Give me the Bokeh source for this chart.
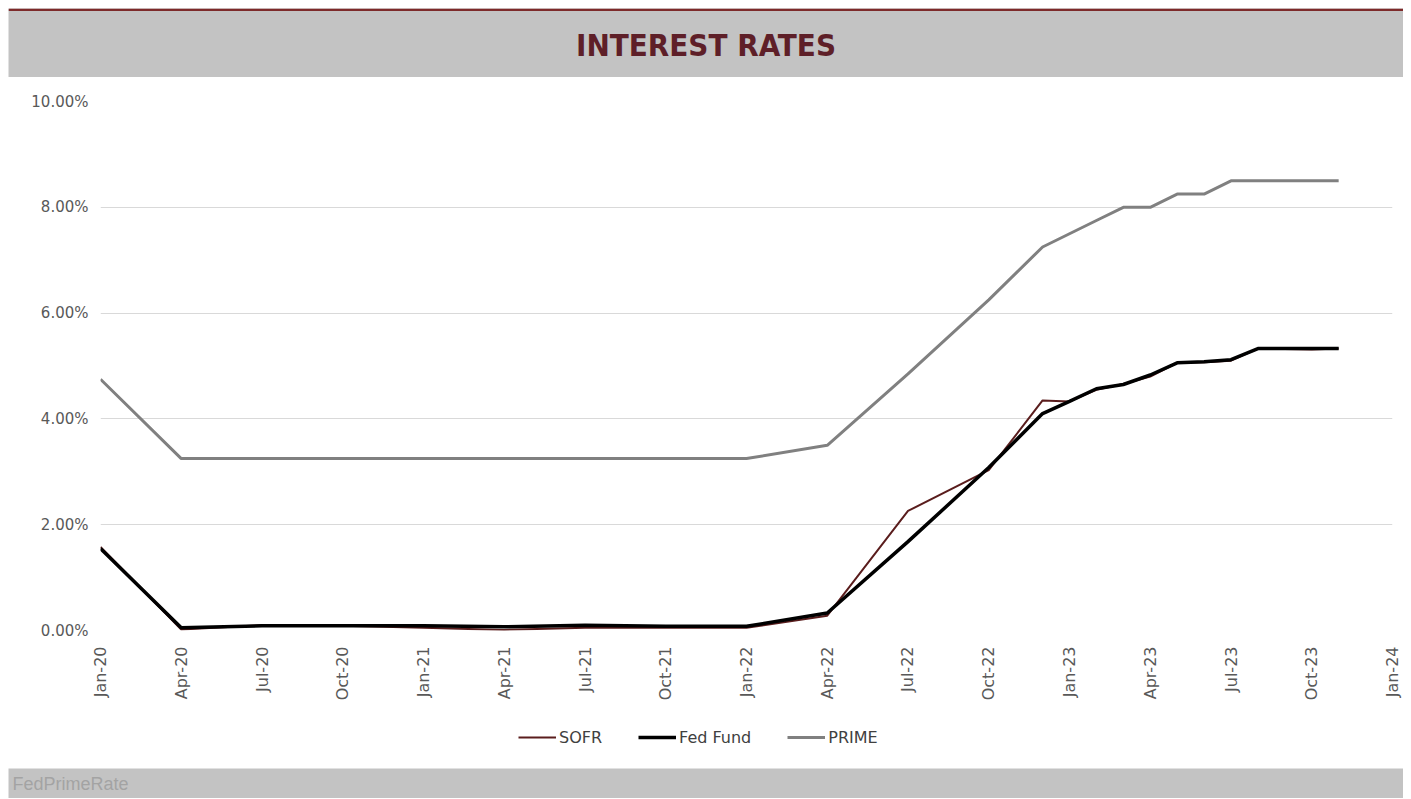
from bokeh.plotting import figure
from bokeh.layouts import column
from bokeh.models import (ColumnDataSource, Range1d, FixedTicker, PrintfTickFormatter,
                          Legend, LegendItem, Label)
from bokeh.embed import file_html
from bokeh.resources import INLINE

# ---------------- data ----------------
dates = ["2020-01", "2020-04", "2020-07", "2020-10", "2021-01", "2021-04", "2021-07",
         "2021-10", "2022-01", "2022-04", "2022-07", "2022-10", "2022-12", "2023-01",
         "2023-02", "2023-03", "2023-04", "2023-05", "2023-06", "2023-07", "2023-08",
         "2023-09", "2023-10", "2023-11"]
sofr = [1.58, 0.02, 0.10, 0.09, 0.05, 0.01, 0.05, 0.05, 0.05, 0.28, 2.26, 3.03, 4.35,
        4.33, 4.55, 4.66, 4.80, 5.06, 5.07, 5.10, 5.33, 5.32, 5.31, 5.33]
fed_fund = [1.55, 0.05, 0.09, 0.09, 0.09, 0.07, 0.10, 0.08, 0.08, 0.33, 1.68, 3.08, 4.10,
            4.33, 4.57, 4.65, 4.83, 5.06, 5.08, 5.12, 5.33, 5.33, 5.33, 5.33]
prime = [4.75, 3.25, 3.25, 3.25, 3.25, 3.25, 3.25, 3.25, 3.25, 3.50, 4.85, 6.25, 7.25,
         7.50, 7.75, 8.00, 8.00, 8.25, 8.25, 8.50, 8.50, 8.50, 8.50, 8.50]
series_names = ["SOFR", "Fed Fund", "PRIME"]
series_cols = ["sofr", "fed", "prime"]
tick_labels = ["Jan-20", "Apr-20", "Jul-20", "Oct-20", "Jan-21", "Apr-21", "Jul-21",
               "Oct-21", "Jan-22", "Apr-22", "Jul-22", "Oct-22", "Jan-23", "Apr-23",
               "Jul-23", "Oct-23", "Jan-24"]
y_ticks = [0, 2, 4, 6, 8, 10]

MONTHS = {"Jan": 1, "Feb": 2, "Mar": 3, "Apr": 4, "May": 5, "Jun": 6, "Jul": 7,
          "Aug": 8, "Sep": 9, "Oct": 10, "Nov": 11, "Dec": 12}


def month_index(s):
    y, m = s.split("-")
    return (int(y) - 2020) * 12 + int(m) - 1


def label_index(lbl):
    mon, yy = lbl.split("-")
    return (2000 + int(yy) - 2020) * 12 + MONTHS[mon] - 1


def no_align(fig):
    try:
        fig.frame_align = False
    except Exception:
        pass


def bare(fig, color):
    no_align(fig)
    fig.axis.visible = False
    fig.grid.visible = False
    fig.outline_line_color = None
    fig.background_fill_color = color
    fig.border_fill_color = color


x = [month_index(d) for d in dates]
src = ColumnDataSource(dict(x=x, sofr=sofr, fed=fed_fund, prime=prime))

W = 1395
AX_FONT = "DejaVu Sans"
GRAY_BAND = "#c3c3c3"
STYLES = [dict(line_color="#5a1d1d", line_width=2),
          dict(line_color="#000000", line_width=3.5),
          dict(line_color="#808080", line_width=3)]

# ---------------- header ----------------
head = figure(width=W, height=69, output_backend="svg", toolbar_location=None,
              x_range=Range1d(0, 1), y_range=Range1d(0, 1), min_border=0)
bare(head, GRAY_BAND)
head.quad(left=[0], right=[1], top=[1], bottom=[1 - 2.5 / 69], color="#7d2a2a", line_width=0)
head.add_layout(Label(x=0.5, y=0.47, text="INTEREST RATES", text_align="center",
                      text_baseline="middle", text_font="DejaVu Sans Condensed",
                      text_font_style="bold", text_font_size="31px", text_color="#5e1f28"))

# ---------------- main chart ----------------
p = figure(width=W, height=633, output_backend="svg", toolbar_location=None,
           x_range=Range1d(0, 48), y_range=Range1d(0, 10),
           min_border_left=92, min_border_right=11, min_border_top=24, min_border_bottom=80)
no_align(p)
p.outline_line_color = None
p.background_fill_color = "white"
p.border_fill_color = "white"

for col, st in zip(series_cols, STYLES):
    p.line("x", col, source=src, **st)

p.xgrid.visible = False
p.ygrid.grid_line_color = "#d9d9d9"
p.ygrid.grid_line_width = 1
p.ygrid.ticker = FixedTicker(ticks=y_ticks)

p.yaxis.ticker = FixedTicker(ticks=y_ticks)
p.yaxis.formatter = PrintfTickFormatter(format="%.2f%%")
p.yaxis.axis_line_color = None
p.yaxis.major_tick_line_color = None
p.yaxis.minor_tick_line_color = None
p.yaxis.major_label_standoff = 6
p.yaxis.major_label_text_font = AX_FONT
p.yaxis.major_label_text_font_size = "15px"
p.yaxis.major_label_text_color = "#595959"

xt = [label_index(l) for l in tick_labels]
p.xaxis.ticker = FixedTicker(ticks=xt)
p.xaxis.major_label_overrides = {t: l for t, l in zip(xt, tick_labels)}
p.xaxis.major_label_orientation = 1.5707963
p.xaxis.axis_line_color = None
p.xaxis.major_tick_line_color = None
p.xaxis.minor_tick_line_color = None
p.xaxis.major_label_standoff = 10
p.xaxis.major_label_text_font = AX_FONT
p.xaxis.major_label_text_font_size = "16px"
p.xaxis.major_label_text_color = "#595959"

# ---------------- legend strip (series drawn off-view; only the legend shows) ----------------
leg = figure(width=W, height=58, output_backend="svg", toolbar_location=None,
             x_range=Range1d(0, 48), y_range=Range1d(100, 101), min_border=0)
bare(leg, "white")
items = []
for name, col, st in zip(series_names, series_cols, STYLES):
    r = leg.line("x", col, source=src, **st)
    items.append(LegendItem(label=name, renderers=[r]))
legend = Legend(items=items, orientation="horizontal", location=(510, 21))
legend.border_line_color = None
legend.background_fill_alpha = 0
legend.label_text_font = AX_FONT
legend.label_text_font_size = "16px"
legend.label_text_color = "#404040"
legend.glyph_width = 38
legend.label_standoff = 3
legend.spacing = 36
legend.padding = 0
legend.margin = 0
leg.add_layout(legend, "center")

# ---------------- footer ----------------
foot = figure(width=W, height=30, output_backend="svg", toolbar_location=None,
              x_range=Range1d(0, 1), y_range=Range1d(0, 1), min_border=0)
bare(foot, GRAY_BAND)
foot.add_layout(Label(x=4, y=0.47, x_units="screen", text="FedPrimeRate",
                      text_baseline="middle", text_font="Liberation Sans",
                      text_font_size="18px", text_color="#a3a3a3"))

layout = column(head, p, leg, foot, spacing=0)
try:
    layout.margin = (8, 8, 0, 8)
except Exception:
    pass
open("out.html", "w").write(file_html(layout, INLINE))
